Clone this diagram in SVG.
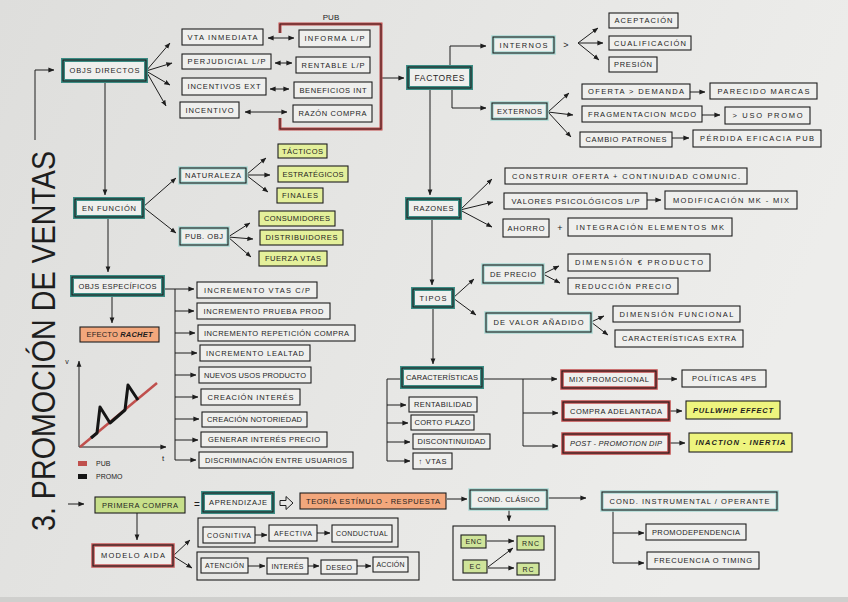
<svg xmlns="http://www.w3.org/2000/svg" width="848" height="602" viewBox="0 0 848 602">
<defs>
<linearGradient id="bg" x1="0" y1="0" x2="1" y2="0.3">
<stop offset="0" stop-color="#dededc"/><stop offset="1" stop-color="#ededeb"/>
</linearGradient>
<marker id="a" viewBox="0 0 8 8" refX="7.5" refY="4" markerWidth="6" markerHeight="6" orient="auto-start-reverse">
<path d="M0,0.8 L8,4 L0,7.2 Z" fill="#1e1e1e"/>
</marker>
<style>
text{font-family:"Liberation Sans",Arial,sans-serif;font-size:7.5px;fill:#1e1e1e;text-anchor:middle}
.s{text-anchor:start}
.bx{fill:#efefed;stroke:#1e1e1e;stroke-width:1.1}
.tl{fill:#efefed;stroke:#3b8c84;stroke-width:4}
.lt{fill:#efefed;stroke:#a9d9d3;stroke-width:3.5}
.rd{fill:#efefed;stroke:#c24b4b;stroke-width:3.5}
.ol{fill:none;stroke:#1e1e1e;stroke-width:1.1}
.yw{fill:#e4f09b}
.yb{fill:#eef47e}
.gr{fill:#c7df8a}
.gn{fill:#cfe49a}
.or{fill:#f3a77c}
.cn{fill:none;stroke:#1e1e1e;stroke-width:1;marker-end:url(#a)}
.dn{fill:none;stroke:#1e1e1e;stroke-width:1;marker-end:url(#a);marker-start:url(#a)}
.ln{fill:none;stroke:#1e1e1e;stroke-width:1}
.bi{font-weight:bold;font-style:italic}
.it{font-style:italic}
.sm{font-size:7px}
</style>
</defs>
<rect x="0" y="0" width="848" height="602" fill="url(#bg)"/>
<rect x="0" y="597" width="848" height="5" fill="#cfcfcd"/>

<g id="title"><text transform="translate(55,341) rotate(-90)" style="font-size:34px" textLength="380" lengthAdjust="spacingAndGlyphs">3. PROMOCIÓN DE VENTAS</text></g>

<g id="connectors">
<path class="cn" d="M35,140 V70 H54"/>
<path class="cn" d="M146,71 L170,43"/>
<path class="cn" d="M146,71 L172,63"/>
<path class="cn" d="M146,71 L170,85"/>
<path class="cn" d="M146,71 L166,106"/>
<path class="dn" d="M268,38 H294"/>
<path class="dn" d="M275,63 H292"/>
<path class="dn" d="M270,89 H289"/>
<path class="dn" d="M245,112 H287"/>
<path class="cn" d="M382,78 H404"/>
<path class="cn" d="M450,67 V46 H486"/>
<path class="cn" d="M452,88 V108 H486"/>
<path class="cn" d="M578,43 L598,28"/>
<path class="cn" d="M578,43 L603,43"/>
<path class="cn" d="M578,43 L599,60"/>
<path class="cn" d="M548,112 L569,93"/>
<path class="cn" d="M548,112 L573,115"/>
<path class="cn" d="M548,112 L571,137"/>
<path class="cn" d="M690,92 H705"/>
<path class="cn" d="M702,115 H720"/>
<path class="cn" d="M672,138 H689"/>
<path class="cn" d="M430,88 V195"/>
<path class="cn" d="M460,210 L492,179"/>
<path class="cn" d="M460,210 L493,202"/>
<path class="cn" d="M460,210 L492,227"/>
<path class="cn" d="M647,200 H661"/>
<path class="cn" d="M432,218 V285"/>
<path class="cn" d="M453,298 L474,279"/>
<path class="cn" d="M453,298 L476,315"/>
<path class="cn" d="M543,274 L559,266"/>
<path class="cn" d="M543,274 L560,283"/>
<path class="cn" d="M591,322 L604,316"/>
<path class="cn" d="M591,322 L608,335"/>
<path class="cn" d="M433,307 V364"/>
<path class="ln" d="M402,379 H387 V461"/>
<path class="cn" d="M387,405 H406"/>
<path class="cn" d="M387,423 H408"/>
<path class="cn" d="M387,442 H410"/>
<path class="cn" d="M387,461 H410"/>
<path class="cn" d="M482,379 H557"/>
<path class="ln" d="M523,379 V446"/>
<path class="cn" d="M523,413 H558"/>
<path class="cn" d="M523,446 H558"/>
<path class="cn" d="M656,379 H677"/>
<path class="cn" d="M669,411 H682"/>
<path class="cn" d="M669,443 H685"/>
<path class="cn" d="M105,81 V195"/>
<path class="cn" d="M143,207 L176,178"/>
<path class="cn" d="M143,207 L176,233"/>
<path class="cn" d="M246,175 L266,158"/>
<path class="cn" d="M246,175 L270,175"/>
<path class="cn" d="M246,175 L268,192"/>
<path class="cn" d="M228,237 L250,223"/>
<path class="cn" d="M228,237 L253,239"/>
<path class="cn" d="M228,237 L251,257"/>
<path class="cn" d="M108,217 V272"/>
<path class="cn" d="M163,289 H194"/>
<path class="ln" d="M175,289 V460"/>
<path class="cn" d="M175,311 H194"/>
<path class="cn" d="M175,333 H195"/>
<path class="cn" d="M175,353 H197"/>
<path class="cn" d="M175,375 H196"/>
<path class="cn" d="M175,397 H198"/>
<path class="cn" d="M175,419 H199"/>
<path class="cn" d="M175,440 H198"/>
<path class="cn" d="M175,460 H196"/>
<path class="cn" d="M112,295 V323"/>
<path class="cn" d="M68,504 H84"/>
<path class="cn" d="M137,513 V540"/>
<path class="cn" d="M173,556 L190,540"/>
<path class="cn" d="M173,556 L192,568"/>
<path class="cn" d="M255,535 H267"/>
<path class="cn" d="M317,533 H330"/>
<path class="cn" d="M248,566 H265"/>
<path class="cn" d="M308,566 H319"/>
<path class="cn" d="M357,566 H371"/>
<path class="cn" d="M447,499 H467"/>
<path class="cn" d="M547,498 H586"/>
<path class="cn" d="M509,510 V521"/>
<path class="cn" d="M487,541 H514"/>
<path class="cn" d="M488,568 H514"/>
<path class="cn" d="M488,567 L513,548"/>
<path class="cn" d="M613,510 V563 H644"/>
<path class="cn" d="M613,533 H644"/>
<path d="M280,500.5 H286 V496.5 L293,503 L286,509.5 V505.5 H280 Z" fill="none" stroke="#1e1e1e" stroke-width="1"/>
</g>

<g id="n-objs-directos"><rect class="tl" x="63" y="60" width="83" height="21"/><rect class="ol" x="63" y="60" width="83" height="21"/><text x="104.5" y="73.2" textLength="70">OBJS DIRECTOS</text></g>
<g id="n-vta-inmediata"><rect class="bx" x="182" y="29" width="81" height="16"/><text x="222.5" y="39.7" textLength="70">VTA INMEDIATA</text></g>
<g id="n-perjudicial"><rect class="bx" x="182" y="54" width="89" height="15"/><text x="226.5" y="64.2" textLength="78">PERJUDICIAL L/P</text></g>
<g id="n-incentivos-ext"><rect class="bx" x="182" y="78" width="84" height="17"/><text x="224" y="89.2" textLength="73">INCENTIVOS EXT</text></g>
<g id="n-incentivo"><rect class="bx" x="180" y="102" width="59" height="16"/><text x="209.5" y="112.7" textLength="48">INCENTIVO</text></g>

<g id="n-pub"><path d="M280,33 V24 H381 V129 H280 V118" fill="none" stroke="#c24b4b" stroke-width="3"/><path d="M280,33 V24 H381 V129 H280 V118" fill="none" stroke="#1e1e1e" stroke-width="0.8"/><text x="331" y="20" style="font-size:8px">PUB</text></g>
<g id="n-informa"><rect class="bx" x="299" y="30" width="71" height="17"/><text x="334.5" y="41.2" textLength="60">INFORMA L/P</text></g>
<g id="n-rentable"><rect class="bx" x="296" y="57" width="74" height="16"/><text x="333" y="67.7" textLength="63">RENTABLE L/P</text></g>
<g id="n-beneficios"><rect class="bx" x="294" y="82" width="78" height="16"/><text x="333" y="92.7" textLength="67">BENEFICIOS INT</text></g>
<g id="n-razon-compra"><rect class="bx" x="293" y="105" width="79" height="17"/><text x="332.5" y="116.2" textLength="68">RAZÓN COMPRA</text></g>

<g id="n-factores"><rect class="tl" x="408" y="67" width="63" height="21"/><rect class="ol" x="408" y="67" width="63" height="21"/><text x="439.5" y="80.5" style="font-size:8.5px" textLength="50">FACTORES</text></g>
<g id="n-internos"><rect class="lt" x="493" y="37" width="61" height="16"/><rect class="ol" x="493" y="37" width="61" height="16"/><text x="523.5" y="47.7" textLength="48">INTERNOS</text></g>
<g id="n-gt"><text x="566" y="47.5" style="font-size:9px">&gt;</text></g>
<g id="n-externos"><rect class="lt" x="492" y="103" width="55" height="16"/><rect class="ol" x="492" y="103" width="55" height="16"/><text x="519.5" y="113.7" textLength="45">EXTERNOS</text></g>
<g id="n-aceptacion"><rect class="bx" x="609" y="13" width="69" height="15"/><text x="643.5" y="23.2" textLength="58">ACEPTACIÓN</text></g>
<g id="n-cualificacion"><rect class="bx" x="609" y="36" width="82" height="14"/><text x="650" y="45.7" textLength="72">CUALIFICACIÓN</text></g>
<g id="n-presion"><rect class="bx" x="609" y="57" width="48" height="15"/><text x="633" y="67.2" textLength="38">PRESIÓN</text></g>
<g id="n-oferta"><rect class="bx" x="582" y="84" width="108" height="15"/><text x="636" y="94.2" textLength="96">OFERTA &gt; DEMANDA</text></g>
<g id="n-parecido"><rect class="bx" x="710" y="83" width="107" height="16"/><text x="763.5" y="93.7" textLength="92">PARECIDO MARCAS</text></g>
<g id="n-fragmentacion"><rect class="bx" x="582" y="106" width="120" height="16"/><text x="642" y="116.7" textLength="108">FRAGMENTACION MCDO</text></g>
<g id="n-uso-promo"><rect class="bx" x="725" y="107" width="85" height="17"/><text x="767.5" y="118.2" textLength="70">&gt; USO PROMO</text></g>
<g id="n-cambio"><rect class="bx" x="580" y="132" width="92" height="15"/><text x="626" y="142.2" textLength="81">CAMBIO PATRONES</text></g>
<g id="n-perdida"><rect class="bx" x="693" y="130" width="128" height="17"/><text x="757" y="141.2" textLength="114">PÉRDIDA EFICACIA PUB</text></g>

<g id="n-razones"><rect class="tl" x="407" y="199" width="53" height="19"/><rect class="ol" x="407" y="199" width="53" height="19"/><text x="433.5" y="211.2" textLength="40">RAZONES</text></g>
<g id="n-construir"><rect class="bx" x="505" y="168" width="242" height="16"/><text x="626" y="178.7" textLength="228">CONSTRUIR OFERTA + CONTINUIDAD COMUNIC.</text></g>
<g id="n-valores"><rect class="bx" x="504" y="193" width="143" height="16"/><text x="575.5" y="203.7" textLength="128">VALORES PSICOLÓGICOS L/P</text></g>
<g id="n-modificacion"><rect class="bx" x="665" y="191" width="132" height="18"/><text x="731" y="202.7" textLength="116">MODIFICACIÓN MK - MIX</text></g>
<g id="n-ahorro"><rect class="bx" x="503" y="219" width="46" height="18"/><text x="526" y="230.7" textLength="37">AHORRO</text></g>
<g id="n-plus"><text x="560" y="231" style="font-size:9px">+</text></g>
<g id="n-integracion"><rect class="bx" x="568" y="218" width="164" height="18"/><text x="650" y="229.7" textLength="148">INTEGRACIÓN ELEMENTOS MK</text></g>

<g id="n-tipos"><rect class="tl" x="413" y="289" width="40" height="18"/><rect class="ol" x="413" y="289" width="40" height="18"/><text x="433" y="300.7" textLength="27">TIPOS</text></g>
<g id="n-de-precio"><rect class="lt" x="483" y="265" width="60" height="18"/><rect class="ol" x="483" y="265" width="60" height="18"/><text x="513" y="276.7" textLength="46">DE PRECIO</text></g>
<g id="n-dimension-producto"><rect class="bx" x="568" y="254" width="142" height="17"/><text x="639" y="265.2" textLength="128">DIMENSIÓN € PRODUCTO</text></g>
<g id="n-reduccion"><rect class="bx" x="568" y="278" width="110" height="16"/><text x="623" y="288.7" textLength="96">REDUCCIÓN PRECIO</text></g>
<g id="n-de-valor"><rect class="lt" x="486" y="313" width="105" height="19"/><rect class="ol" x="486" y="313" width="105" height="19"/><text x="538.5" y="325.2" textLength="90">DE VALOR AÑADIDO</text></g>
<g id="n-dimension-funcional"><rect class="bx" x="613" y="306" width="127" height="16"/><text x="676.5" y="316.7" textLength="114">DIMENSIÓN FUNCIONAL</text></g>
<g id="n-caracteristicas-extra"><rect class="bx" x="615" y="330" width="128" height="17"/><text x="679" y="341.2" textLength="114">CARACTERÍSTICAS EXTRA</text></g>

<g id="n-caracteristicas"><rect class="tl" x="402" y="368" width="80" height="19"/><rect class="ol" x="402" y="368" width="80" height="19"/><text x="442" y="380.2" textLength="72">CARACTERÍSTICAS</text></g>
<g id="n-rentabilidad"><rect class="bx" x="409" y="397" width="68" height="15"/><text x="443" y="407.2" textLength="58">RENTABILIDAD</text></g>
<g id="n-corto-plazo"><rect class="bx" x="411" y="415" width="63" height="15"/><text x="442.5" y="425.2" textLength="56">CORTO PLAZO</text></g>
<g id="n-discontinuidad"><rect class="bx" x="413" y="434" width="77" height="15"/><text x="451.5" y="444.2" textLength="68">DISCONTINUIDAD</text></g>
<g id="n-vtas"><rect class="bx" x="413" y="453" width="39" height="16"/><text x="432.5" y="463.7" textLength="28">↑ VTAS</text></g>
<g id="n-mix"><rect class="rd" x="562" y="371" width="94" height="17"/><rect class="ol" x="562" y="371" width="94" height="17"/><text x="609" y="382.2" textLength="80">MIX PROMOCIONAL</text></g>
<g id="n-politicas"><rect class="bx" x="682" y="370" width="84" height="17"/><text x="724" y="381.2" textLength="64">POLÍTICAS 4PS</text></g>
<g id="n-compra-adelantada"><rect class="rd" x="563" y="402" width="106" height="18"/><rect class="ol" x="563" y="402" width="106" height="18"/><text x="616" y="413.7" textLength="92">COMPRA ADELANTADA</text></g>
<g id="n-pullwhip"><rect class="bx yb" x="686" y="401" width="94" height="18"/><text class="bi" x="733" y="412.7" textLength="80">PULLWHIP EFFECT</text></g>
<g id="n-post-promotion"><rect class="rd" x="563" y="434" width="106" height="19"/><rect class="ol" x="563" y="434" width="106" height="19"/><text class="it" x="616" y="446.2" textLength="92">POST - PROMOTION DIP</text></g>
<g id="n-inaction"><rect class="bx yb" x="689" y="433" width="103" height="19"/><text class="bi" x="740.5" y="445.2" textLength="90">INACTION - INERTIA</text></g>

<g id="n-en-funcion"><rect class="tl" x="75" y="199" width="68" height="18"/><rect class="ol" x="75" y="199" width="68" height="18"/><text x="109" y="210.7" textLength="54">EN FUNCIÓN</text></g>
<g id="n-naturaleza"><rect class="lt" x="180" y="168" width="66" height="15"/><rect class="ol" x="180" y="168" width="66" height="15"/><text x="213" y="178.2" textLength="56">NATURALEZA</text></g>
<g id="n-pub-obj"><rect class="lt" x="180" y="228" width="48" height="17"/><rect class="ol" x="180" y="228" width="48" height="17"/><text x="204" y="239.2" textLength="38">PUB. OBJ</text></g>
<g id="n-tacticos"><rect class="bx yw" x="278" y="144" width="49" height="14"/><text x="302.5" y="153.7" textLength="41">TÁCTICOS</text></g>
<g id="n-estrategicos"><rect class="bx yw" x="278" y="166" width="70" height="16"/><text x="313" y="176.7" textLength="61">ESTRATÉGICOS</text></g>
<g id="n-finales"><rect class="bx yw" x="277" y="188" width="46" height="15"/><text x="300" y="198.2" textLength="36">FINALES</text></g>
<g id="n-consumidores"><rect class="bx yw" x="259" y="211" width="76" height="15"/><text x="297" y="221.2" textLength="66">CONSUMIDORES</text></g>
<g id="n-distribuidores"><rect class="bx yw" x="260" y="230" width="83" height="15"/><text x="301.5" y="240.2" textLength="72">DISTRIBUIDORES</text></g>
<g id="n-fuerza-vtas"><rect class="bx yw" x="259" y="251" width="68" height="15"/><text x="293" y="261.2" textLength="56">FUERZA VTAS</text></g>

<g id="n-objs-especificos"><rect class="tl" x="72" y="277" width="91" height="18"/><rect class="ol" x="72" y="277" width="91" height="18"/><text x="117.5" y="288.7" textLength="78">OBJS ESPECÍFICOS</text></g>
<g id="n-efecto-rachet"><rect class="bx or" x="80" y="327" width="79" height="15"/><text x="119.5" y="337.2" textLength="66">EFECTO <tspan class="bi">RACHET</tspan></text></g>
<g id="n-inc-vtas"><rect class="bx" x="197" y="282" width="120" height="16"/><text x="257" y="292.7" textLength="106">INCREMENTO VTAS C/P</text></g>
<g id="n-inc-prueba"><rect class="bx" x="197" y="303" width="133" height="16"/><text x="263.5" y="313.7" textLength="120">INCREMENTO PRUEBA PROD</text></g>
<g id="n-inc-repeticion"><rect class="bx" x="198" y="325" width="157" height="16"/><text x="276.5" y="335.7" textLength="145">INCREMENTO REPETICIÓN COMPRA</text></g>
<g id="n-inc-lealtad"><rect class="bx" x="200" y="345" width="110" height="16"/><text x="255" y="355.7" textLength="98">INCREMENTO LEALTAD</text></g>
<g id="n-nuevos-usos"><rect class="bx" x="199" y="367" width="112" height="16"/><text x="255" y="377.7" textLength="102">NUEVOS USOS PRODUCTO</text></g>
<g id="n-creacion-interes"><rect class="bx" x="201" y="389" width="99" height="16"/><text x="250.5" y="399.7" textLength="86">CREACIÓN INTERÉS</text></g>
<g id="n-creacion-notoriedad"><rect class="bx" x="202" y="412" width="105" height="15"/><text x="254.5" y="422.2" textLength="95">CREACIÓN NOTORIEDAD</text></g>
<g id="n-generar"><rect class="bx" x="201" y="432" width="126" height="15"/><text x="264" y="442.2" textLength="112">GENERAR INTERÉS PRECIO</text></g>
<g id="n-discriminacion"><rect class="bx" x="199" y="452" width="154" height="16"/><text x="276" y="462.7" textLength="142">DISCRIMINACIÓN ENTRE USUARIOS</text></g>

<g id="n-chart">
<path class="cn" d="M79,447 V361"/>
<path class="cn" d="M79,447 H166"/>
<text x="67" y="364" style="font-size:7px">v</text>
<text x="163" y="461" style="font-size:8px">t</text>
<path d="M80,447 L157,383" fill="none" stroke="#c0504d" stroke-width="2.5"/>
<path d="M91,438 L97,433 L100,407 L110,423 L125,410 L128,385 L138,400" fill="none" stroke="#151515" stroke-width="3" stroke-linejoin="round"/>
<rect x="78" y="461" width="9" height="5" fill="#c0504d"/>
<text class="s" x="96" y="466" style="font-size:7px">PUB</text>
<rect x="78" y="474" width="9" height="5" fill="#151515"/>
<text class="s" x="96" y="479" style="font-size:7px">PROMO</text>
</g>

<g id="n-primera-compra"><rect class="bx gr" x="95" y="497" width="90" height="16"/><text x="140" y="507.7" textLength="76">PRIMERA COMPRA</text></g>
<g id="n-equals"><text x="197" y="507.5" style="font-size:10px">=</text></g>
<g id="n-aprendizaje"><rect class="tl" x="203" y="493" width="70" height="19"/><rect class="ol" x="203" y="493" width="70" height="19"/><text x="238" y="505.2" textLength="58">APRENDIZAJE</text></g>
<g id="n-teoria"><rect class="bx or" x="300" y="493" width="146" height="16"/><text x="373" y="503.7" textLength="134">TEORÍA ESTÍMULO - RESPUESTA</text></g>
<g id="n-cond-clasico"><rect class="lt" x="470" y="490" width="77" height="19"/><rect class="ol" x="470" y="490" width="77" height="19"/><text x="508.5" y="502.2" textLength="62">COND. CLÁSICO</text></g>
<g id="n-cond-instrumental"><rect class="lt" x="602" y="492" width="175" height="18"/><rect class="ol" x="602" y="492" width="175" height="18"/><text x="689.5" y="503.7" textLength="160">COND. INSTRUMENTAL / OPERANTE</text></g>
<g id="n-clasico-box">
<rect class="ol" x="453" y="526" width="102" height="54"/>
<rect class="bx gn" x="461" y="535" width="25" height="13"/><text class="sm" x="473.5" y="544" textLength="16">ENC</text>
<rect class="bx gn" x="517" y="536" width="27" height="14"/><text class="sm" x="530.5" y="545.5" textLength="17">RNC</text>
<rect class="bx gn" x="463" y="560" width="24" height="13"/><text class="sm" x="475" y="569" textLength="11">EC</text>
<rect class="bx gn" x="517" y="563" width="22" height="12"/><text class="sm" x="528" y="571.5" textLength="11">RC</text>
</g>
<g id="n-promodependencia"><rect class="bx" x="646" y="524" width="100" height="16"/><text x="696" y="534.7" textLength="88">PROMODEPENDENCIA</text></g>
<g id="n-frecuencia"><rect class="bx" x="647" y="552" width="112" height="17"/><text x="703" y="563.2" textLength="98">FRECUENCIA O TIMING</text></g>
<g id="n-modelo-aida"><rect class="rd" x="93" y="545" width="80" height="21" style="stroke:#c85a5a"/><rect class="ol" x="93" y="545" width="80" height="21"/><text x="133" y="558.2" textLength="64">MODELO AIDA</text></g>
<g id="n-cac">
<rect class="ol" x="198" y="518" width="200" height="29"/>
<rect class="bx" x="203" y="527" width="52" height="16"/><text class="sm" x="229" y="537.5" textLength="44">COGNITIVA</text>
<rect class="bx" x="269" y="525" width="48" height="16"/><text class="sm" x="293" y="535.5" textLength="38">AFECTIVA</text>
<rect class="bx" x="332" y="525" width="60" height="17"/><text class="sm" x="362" y="536" textLength="52">CONDUCTUAL</text>
</g>
<g id="n-aida">
<rect class="ol" x="197" y="552" width="222" height="28"/>
<rect class="bx" x="201" y="558" width="47" height="15"/><text class="sm" x="224.5" y="568" textLength="39">ATENCIÓN</text>
<rect class="bx" x="267" y="558" width="41" height="16"/><text class="sm" x="287.5" y="568.5" textLength="32">INTERÉS</text>
<rect class="bx" x="321" y="560" width="36" height="14"/><text class="sm" x="339" y="569.5" textLength="26">DESEO</text>
<rect class="bx" x="373" y="557" width="35" height="15"/><text class="sm" x="390.5" y="567" textLength="28">ACCIÓN</text>
</g>
</svg>
